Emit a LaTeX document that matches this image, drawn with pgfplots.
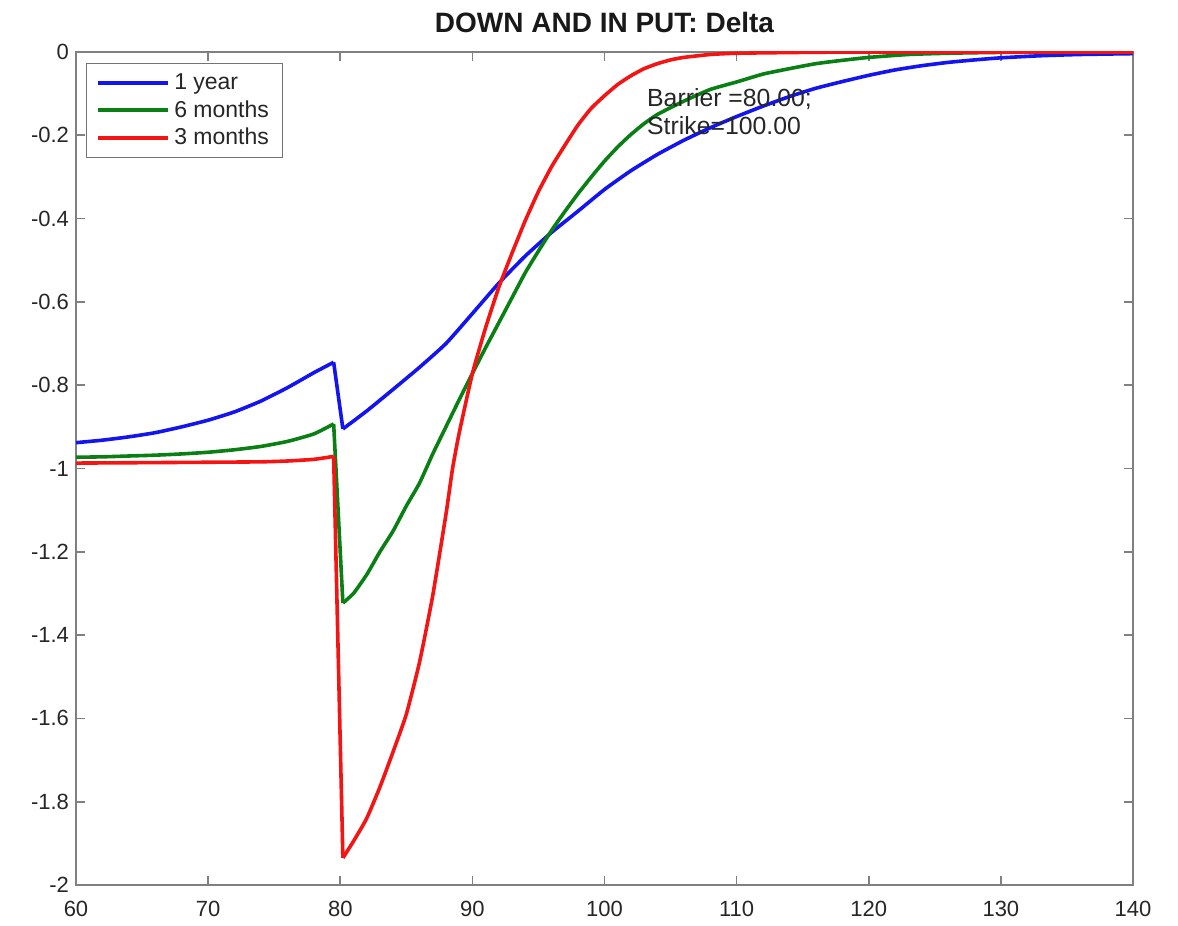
\documentclass[border=0pt]{standalone}
\usepackage{fontspec}
\setmainfont{Liberation Sans}
\usepackage{pgfplots}
\pgfplotsset{compat=1.18}
\definecolor{mblue}{RGB}{20,20,240}
\definecolor{mgreen}{RGB}{10,128,20}
\definecolor{mred}{RGB}{245,20,20}
\begin{document}
\begin{tikzpicture}
\begin{axis}[
  scale only axis, width=528.5pt, height=416.5pt,
  xmin=60, xmax=140, ymin=-2, ymax=0,
  xtick={60,70,80,90,100,110,120,130,140},
  ytick={-2,-1.8,-1.6,-1.4,-1.2,-1,-0.8,-0.6,-0.4,-0.2,0},
  tick align=inside, major tick length=4.5pt,
  axis line style={black!50, line width=0.8pt},
  tick style={black!50, line width=0.8pt},
  ticklabel style={font=\fontsize{11}{13}\selectfont, text=black!85},
  xticklabel style={yshift=-4.5pt},
  /pgf/number format/assume math mode=true,
  title={DOWN AND IN PUT: Delta},
  title style={font=\bfseries\fontsize{14}{16}\selectfont, text=black!90, at={(0.5,1)}, anchor=base, yshift=3.5pt},
  legend style={at={(0.0095,0.9868)}, anchor=north west, draw=black!55, line width=0.6pt,
    font=\fontsize{11.5}{13}\selectfont, text=black!85, row sep=0pt, inner xsep=5pt, inner ysep=3pt},
  legend cell align=left,
  legend image code/.code={\draw[#1] (0pt,0pt) -- (35pt,0pt);},
  every axis plot/.append style={line width=1.8pt, line join=round, smooth, tension=0.3},
]
\addplot[mblue] coordinates {
(60,-0.938) (62,-0.932) (64,-0.924) (66,-0.914) (68,-0.900) (70,-0.884) (72,-0.864)
(74,-0.838) (76,-0.806) (78,-0.770) (79.5,-0.745)};
\addplot[mblue, forget plot] coordinates {(79.5,-0.745) (80.2,-0.905)};
\addplot[mblue, forget plot] coordinates {(80.2,-0.905) (82,-0.862) (84,-0.810)
(86,-0.757) (88,-0.700) (90,-0.628) (92,-0.555) (94,-0.490) (96,-0.433) (98,-0.382)
(100,-0.330) (102,-0.285) (104,-0.246) (106,-0.212) (108,-0.182) (110,-0.155)
(112,-0.130) (114,-0.107) (116,-0.087) (118,-0.071) (120,-0.056) (122,-0.043)
(124,-0.033) (126,-0.025) (128,-0.019) (130,-0.014) (133,-0.009) (136,-0.006) (140,-0.004)
};
\addlegendentry{1 year}
\addplot[mgreen] coordinates {
(60,-0.973) (62,-0.972) (64,-0.970) (66,-0.968) (68,-0.965) (70,-0.961) (72,-0.955)
(74,-0.947) (76,-0.935) (78,-0.917) (79.5,-0.893)};
\addplot[mgreen, forget plot] coordinates {(79.5,-0.893) (80.2,-1.323)};
\addplot[mgreen, forget plot] coordinates {(80.2,-1.323) (81,-1.300) (82,-1.255)
(83,-1.200) (84,-1.150) (85,-1.090) (86,-1.035) (87,-0.965) (88,-0.900) (89,-0.835)
(90,-0.772) (91,-0.710) (92,-0.650) (93,-0.590) (94,-0.530) (95,-0.478) (96,-0.428)
(97,-0.383) (98,-0.340) (99,-0.300) (100,-0.262) (101,-0.228) (102,-0.198) (103,-0.172)
(104,-0.150) (106,-0.118) (108,-0.090) (110,-0.072) (112,-0.053) (114,-0.040)
(116,-0.028) (118,-0.020) (120,-0.013) (123,-0.006) (126,-0.003) (130,-0.001) (140,0)
};
\addlegendentry{6 months}
\addplot[mred] coordinates {
(60,-0.987) (65,-0.986) (70,-0.985) (74,-0.984) (76,-0.982) (78,-0.978) (79.5,-0.971)};
\addplot[mred, forget plot] coordinates {(79.5,-0.971) (80.2,-1.935)};
\addplot[mred, forget plot] coordinates {
(80.2,-1.935) (81,-1.895) (82,-1.840) (83,-1.765) (84,-1.680) (85,-1.590) (86,-1.465)
(87,-1.305) (88,-1.110) (88.5,-1.000) (89,-0.915) (90,-0.772) (91,-0.662) (92,-0.565)
(93,-0.483) (94,-0.405) (95,-0.335) (96,-0.275) (97,-0.224) (98,-0.175) (99,-0.135)
(100,-0.105) (101,-0.078) (102,-0.057) (103,-0.040) (104,-0.028) (105,-0.019)
(106,-0.013) (108,-0.006) (110,-0.003) (115,-0.001) (120,0) (140,0)
};
\addlegendentry{3 months}
\node[anchor=north west, align=left, inner sep=0pt, text=black!85,
  font=\fontsize{12.4}{14}\selectfont] at (axis cs:103.2,-0.086) {Barrier =80.00;\\Strike=100.00};
\coordinate (sw) at (rel axis cs:0,0);
\coordinate (ne) at (rel axis cs:1,1);
\end{axis}
\pgfresetboundingbox
\path ([shift={(-38pt,-20pt)}]sw) rectangle ([shift={(22.5pt,26pt)}]ne);
\end{tikzpicture}
\end{document}
